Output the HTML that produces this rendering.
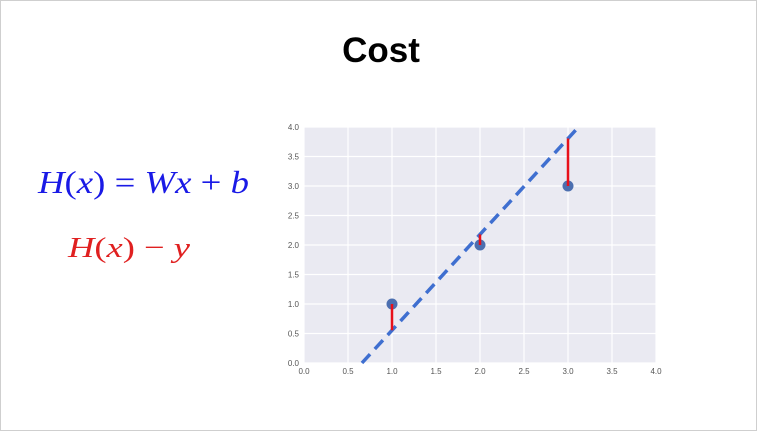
<!DOCTYPE html>
<html><head><meta charset="utf-8"><style>
html,body{margin:0;padding:0;background:#fff;}
svg{display:block;}
</style></head><body>
<svg width="757" height="431" xmlns="http://www.w3.org/2000/svg">
<rect x="0.5" y="0.5" width="756" height="430" fill="#fff" stroke="#cfcfcf"/>
<text x="381" y="62" text-anchor="middle" font-family="Liberation Sans, sans-serif" font-weight="bold" font-size="35" fill="#000">Cost</text>
<text x="38" y="193" font-family="Liberation Serif, serif" font-size="32" fill="#1a1ae6" textLength="211" lengthAdjust="spacingAndGlyphs"><tspan font-style="italic">H</tspan>(<tspan font-style="italic">x</tspan>) = <tspan font-style="italic">Wx</tspan> + <tspan font-style="italic">b</tspan></text>
<text x="68" y="257" font-family="Liberation Serif, serif" font-size="29" fill="#e02020" textLength="122" lengthAdjust="spacingAndGlyphs"><tspan font-style="italic">H</tspan>(<tspan font-style="italic">x</tspan>) − <tspan font-style="italic">y</tspan></text>
<g id="chart"></g>
</svg>
<script>
const xTicks=[0,0.5,1,1.5,2,2.5,3,3.5,4];
const yTicks=[0,0.5,1,1.5,2,2.5,3,3.5,4];
const tickLabels=["0.0","0.5","1.0","1.5","2.0","2.5","3.0","3.5","4.0"];
const pointX=[1,2,3];
const pointY=[1,2,3];
const lineW=1.625;
const lineB=-1.07;
const NS="http://www.w3.org/2000/svg";
const L=304,R=656,T=127,B=363;
const sx=v=>L+(v/4)*(R-L);
const sy=v=>B-(v/4)*(B-T);
const g=document.getElementById('chart');
function mk(tag,a){const e=document.createElementNS(NS,tag);for(const k in a)e.setAttribute(k,a[k]);g.appendChild(e);return e;}
const bg=mk('rect',{x:L,y:T,width:R-L,height:B-T,fill:'#eaeaf2'});


xTicks.forEach((v,i)=>{
 const l=mk('line',{x1:sx(v),x2:sx(v),y1:T,y2:B,stroke:'#fff','stroke-width':1.2});
 
 
 const t=mk('text',{x:sx(v),y:B+11,'text-anchor':'middle','font-family':'Liberation Sans, sans-serif','font-size':8,fill:'#555'});
 t.textContent=tickLabels[i];
 
 
});
yTicks.forEach((v,i)=>{
 const l=mk('line',{x1:L,x2:R,y1:sy(v),y2:sy(v),stroke:'#fff','stroke-width':1.2});
 
 
 const t=mk('text',{x:L-5,y:sy(v)+3,'text-anchor':'end','font-family':'Liberation Sans, sans-serif','font-size':8,fill:'#555'});
 t.textContent=tickLabels[i];
 
 
});
const x0=Math.max(0,-lineB/lineW), x1=Math.min(4,(4-lineB)/lineW);
const hl=mk('line',{x1:sx(x0),y1:sy(lineW*x0+lineB),x2:sx(x1),y2:sy(lineW*x1+lineB),stroke:'#3f6fd0','stroke-width':3.5,'stroke-dasharray':'12,7'});


pointX.forEach((x,i)=>{
 const c=mk('circle',{cx:sx(x),cy:sy(pointY[i]),r:5.5,fill:'#4c6fb0'});
 
 
});
pointX.forEach((x,i)=>{
 const r=mk('line',{x1:sx(x),x2:sx(x),y1:sy(pointY[i]),y2:sy(lineW*x+lineB),stroke:'#e8101a','stroke-width':2.5});
 
 
});
</script>
</body></html>
